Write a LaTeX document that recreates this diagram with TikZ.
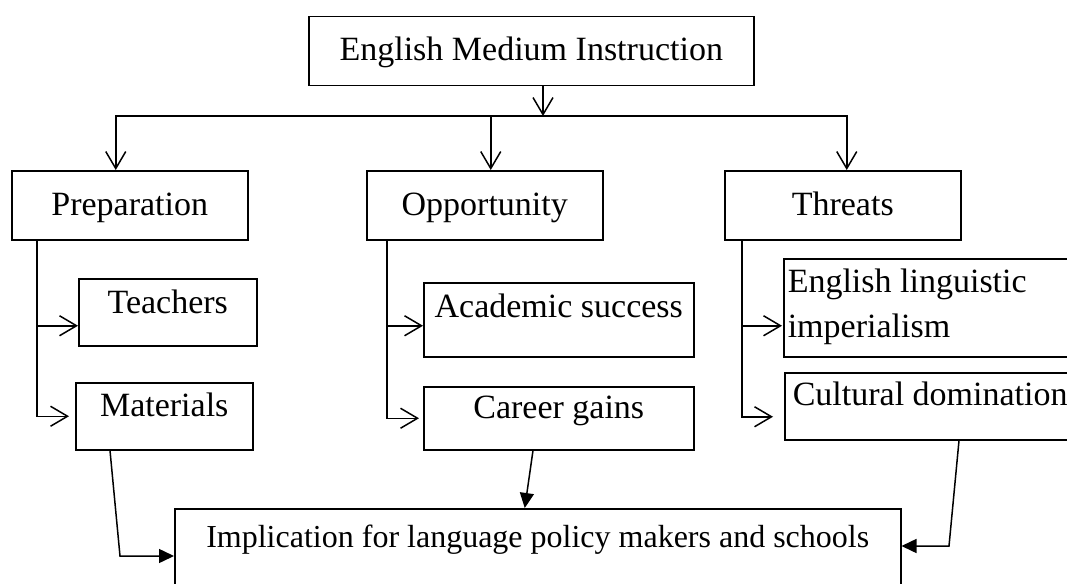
\documentclass[tikz,border=0pt]{standalone}
\usepackage{fontspec}
\setmainfont{Liberation Serif}
\usetikzlibrary{arrows.meta,calc,positioning}
\tikzset{
>={Straight Barb[length=17pt,width=20pt]},
  box/.style={
    rectangle,
    draw=black, line width=1.5pt,
    anchor=north west,
    inner xsep=0pt, inner ysep=0pt,
    font=\fontsize{34pt}{45pt}\selectfont},
  line/.style={draw, line width=1.5pt, ->},
  feed/.style={draw, line width=1.5pt, -{Triangle[length=15pt,width=14pt]}},
}

\begin{document}
\begin{tikzpicture}[x=1pt,y=-1pt]
\useasboundingbox (0,0) rectangle (1067,583);
\clip (0,0) rectangle (1067,583);

\node[box, minimum width=445pt, text height=44pt, text depth=25pt] (emi) at (308,16) {English Medium Instruction\hspace{12pt}};

\node[box, minimum width=236pt, text height=44.5pt, text depth=24.5pt] (prep) at (11,170) {Preparation};
\node[box, minimum width=236pt, text height=44.5pt, text depth=24.5pt] (opp) at (366,170) {Opportunity};
\node[box, minimum width=236pt, text height=44.5pt, text depth=24.5pt] (thr) at (724,170) {Threats};

\node[box, minimum width=178pt, text height=35pt, text depth=32pt] (teach) at (78,278) {Teachers};
\node[box, minimum width=177pt, text height=34pt, text depth=33pt] (mat) at (75,382) {Materials};
\node[box, minimum width=270pt, text height=35pt, text depth=39pt] (acad) at (423,282) {Academic success};
\node[box, minimum width=270pt, text height=32pt, text depth=31pt] (career) at (423,386) {Career gains};
\node[box, inner xsep=4pt, text height=34pt, text depth=64pt] (elimp) at (783,258)
  {\parbox[t]{290pt}{English linguistic\\imperialism}};
\node[box, inner xsep=8pt, text height=33pt, text depth=34pt] (cult) at (784,372)
  {\parbox[t]{290pt}{Cultural domination}};

\node[box, minimum width=726pt, text height=39pt, text depth=90pt,
  font=\fontsize{32pt}{40pt}\selectfont] (impl) at (174,508)
  {Implication for language policy makers and schools};

% top level
\coordinate (bus) at (543,116);
\draw[line] (emi.south -| bus) -- (bus);
\draw[line] (bus) -| ([xshift=-14pt]prep.north);
\draw[line] (bus) -| ([xshift=4pt]thr.north);
\draw[line] ([xshift=6pt]opp.north |- bus) -- ([xshift=6pt]opp.north);

% sub items
\coordinate (pt) at ([xshift=26pt]prep.south west);
\coordinate (ot) at ([xshift=21pt]opp.south west);
\coordinate (tt) at ([xshift=18pt]thr.south west);
\draw[line] (pt) |- ([yshift=-13.5pt]teach.west);
\draw[line, shorten >=6pt] (pt) |- (mat.west);
\draw[line] (ot) |- ([yshift=-6pt]acad.west);
\draw[line, shorten >=4pt] (ot) |- (career.west);
\draw[line, shorten >=1pt] (tt) |- ([yshift=-18pt]elimp.west);
\draw[line, shorten >=11pt] (tt) |- ([yshift=-10.5pt]cult.west);

% into the implication box
\coordinate (matbend) at (120,556);
\coordinate (cultbend) at (949,546);
\draw[feed] ([xshift=35pt]mat.south west) -- (matbend) -- (matbend -| impl.west);
\draw[feed] ([xshift=110pt]career.south west) -- ([xshift=-13pt]impl.north);
\draw[feed] ([xshift=175pt]cult.south west) -- (cultbend) -- (cultbend -| impl.east);
\end{tikzpicture}
\end{document}
